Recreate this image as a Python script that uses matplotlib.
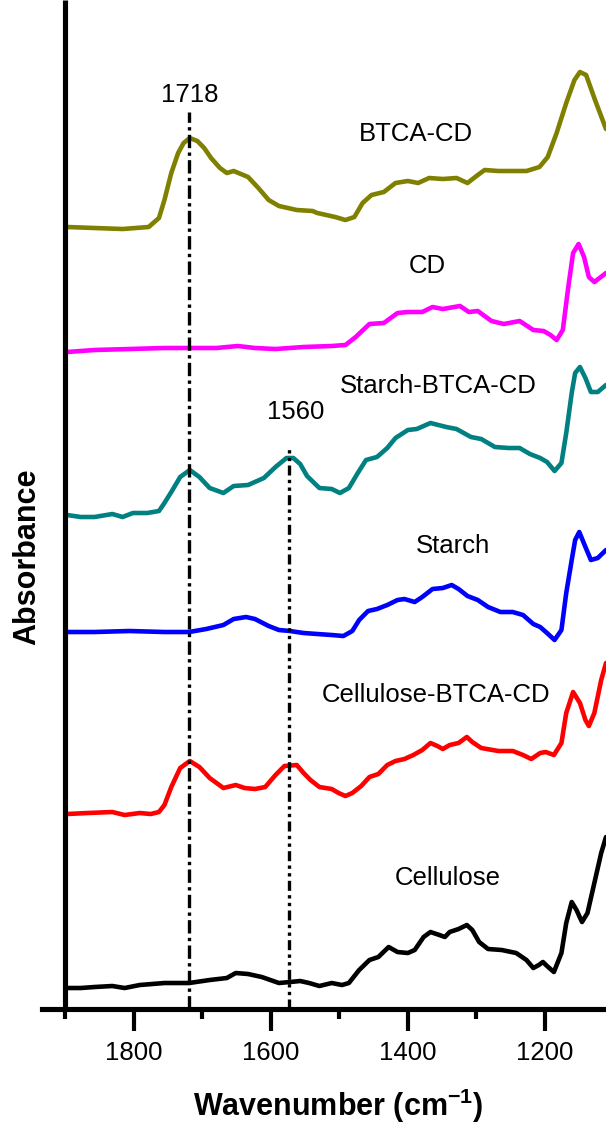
import matplotlib
matplotlib.use('Agg')
import matplotlib.pyplot as plt
from matplotlib.ticker import MultipleLocator

plt.rcParams['font.family'] = ['Liberation Sans', 'DejaVu Sans']
plt.rcParams['mathtext.fontset'] = 'custom'
plt.rcParams['mathtext.rm'] = 'Liberation Sans'
plt.rcParams['mathtext.bf'] = 'Liberation Sans:bold'

# espectros FTIR (absorbancia en unidades arbitrarias, ya desplazados)
btca_cd_w = [1897, 1857, 1816, 1778, 1763, 1755, 1745, 1735, 1727, 1718, 1707, 1697, 1687, 1674, 1664, 1654,
             1633, 1618, 1603, 1588, 1562, 1539, 1532, 1506, 1491, 1478, 1466, 1453, 1435, 1418, 1400, 1385,
             1369, 1349, 1329, 1313, 1298, 1288, 1268, 1227, 1208, 1196, 1183, 1169, 1157, 1149, 1140, 1127, 1111]
btca_cd_a = [7.82, 7.81, 7.80, 7.82, 7.91, 8.09, 8.36, 8.56, 8.66, 8.71, 8.68, 8.61, 8.51, 8.41, 8.36, 8.38,
             8.32, 8.21, 8.09, 8.03, 7.99, 7.98, 7.96, 7.92, 7.89, 7.92, 8.06, 8.14, 8.17, 8.26, 8.28, 8.26,
             8.31, 8.30, 8.31, 8.26, 8.34, 8.39, 8.38, 8.38, 8.42, 8.52, 8.76, 9.06, 9.29, 9.37, 9.34, 9.09, 8.80]

cd_w = [1897, 1857, 1806, 1755, 1719, 1679, 1648, 1623, 1593, 1552, 1511, 1491, 1476, 1456, 1435, 1415, 1400,
        1379, 1364, 1349, 1324, 1311, 1298, 1278, 1260, 1237, 1217, 1202, 1192, 1183, 1174, 1166, 1159, 1151,
        1143, 1136, 1128, 1111]
cd_a = [6.57, 6.59, 6.60, 6.61, 6.61, 6.61, 6.63, 6.61, 6.60, 6.62, 6.63, 6.64, 6.72, 6.85, 6.86, 6.96, 6.97,
        6.97, 7.02, 7.00, 7.03, 6.97, 6.98, 6.88, 6.85, 6.88, 6.79, 6.78, 6.74, 6.69, 6.79, 7.22, 7.56, 7.65,
        7.52, 7.32, 7.27, 7.36]

starch_btca_cd_w = [1897, 1877, 1857, 1831, 1816, 1801, 1780, 1763, 1755, 1745, 1732, 1718, 1704, 1689, 1669,
                    1654, 1633, 1610, 1593, 1577, 1567, 1557, 1547, 1529, 1511, 1499, 1486, 1473, 1461, 1445,
                    1430, 1418, 1400, 1387, 1367, 1344, 1329, 1308, 1293, 1273, 1253, 1237, 1222, 1207, 1197,
                    1186, 1176, 1169, 1161, 1156, 1149, 1141, 1133, 1123, 1111]
starch_btca_cd_a = [4.94, 4.92, 4.92, 4.95, 4.92, 4.96, 4.96, 4.98, 5.06, 5.17, 5.32, 5.39, 5.32, 5.21, 5.16,
                    5.23, 5.24, 5.31, 5.42, 5.51, 5.51, 5.45, 5.33, 5.21, 5.20, 5.16, 5.21, 5.36, 5.49, 5.52,
                    5.61, 5.71, 5.79, 5.80, 5.86, 5.82, 5.80, 5.72, 5.70, 5.62, 5.61, 5.61, 5.55, 5.51, 5.47,
                    5.38, 5.46, 5.76, 6.16, 6.36, 6.42, 6.31, 6.17, 6.17, 6.24]

starch_w = [1897, 1857, 1806, 1755, 1719, 1694, 1669, 1654, 1636, 1623, 1603, 1588, 1572, 1552, 1532, 1511,
            1494, 1481, 1471, 1458, 1445, 1430, 1415, 1405, 1390, 1379, 1364, 1349, 1336, 1326, 1313, 1298,
            1283, 1265, 1247, 1232, 1217, 1207, 1197, 1186, 1176, 1169, 1161, 1156, 1150, 1141, 1133, 1123, 1111]
starch_a = [3.77, 3.77, 3.78, 3.77, 3.77, 3.80, 3.84, 3.90, 3.92, 3.90, 3.83, 3.79, 3.78, 3.76, 3.75, 3.74,
            3.73, 3.78, 3.89, 3.98, 4.00, 4.04, 4.09, 4.10, 4.07, 4.12, 4.20, 4.21, 4.24, 4.20, 4.13, 4.09,
            4.02, 3.97, 3.97, 3.94, 3.85, 3.82, 3.76, 3.69, 3.79, 4.16, 4.49, 4.69, 4.77, 4.62, 4.49, 4.51, 4.59]

cel_btca_cd_w = [1897, 1867, 1831, 1813, 1791, 1775, 1763, 1755, 1745, 1732, 1718, 1704, 1689, 1669, 1651,
                 1638, 1623, 1608, 1593, 1580, 1562, 1552, 1542, 1529, 1511, 1501, 1491, 1481, 1468, 1456,
                 1443, 1430, 1418, 1405, 1392, 1379, 1367, 1357, 1349, 1339, 1326, 1314, 1306, 1293, 1268,
                 1247, 1232, 1220, 1207, 1199, 1187, 1176, 1169, 1159, 1149, 1141, 1136, 1128, 1118, 1111]
cel_btca_cd_a = [1.95, 1.96, 1.97, 1.94, 1.96, 1.95, 1.97, 2.04, 2.22, 2.41, 2.48, 2.42, 2.31, 2.21, 2.24,
                 2.21, 2.20, 2.22, 2.34, 2.43, 2.44, 2.36, 2.29, 2.22, 2.20, 2.16, 2.13, 2.16, 2.23, 2.32,
                 2.35, 2.44, 2.48, 2.50, 2.54, 2.59, 2.66, 2.63, 2.60, 2.64, 2.66, 2.72, 2.67, 2.61, 2.58,
                 2.58, 2.54, 2.50, 2.56, 2.57, 2.54, 2.66, 2.96, 3.17, 3.06, 2.89, 2.83, 2.96, 3.29, 3.46]

cellulose_w = [1897, 1877, 1857, 1831, 1813, 1791, 1755, 1719, 1689, 1664, 1651, 1633, 1613, 1588, 1572,
               1557, 1544, 1529, 1511, 1496, 1486, 1471, 1456, 1443, 1428, 1415, 1400, 1390, 1377, 1367,
               1354, 1346, 1339, 1326, 1314, 1306, 1296, 1283, 1263, 1242, 1227, 1217, 1209, 1203, 1197,
               1187, 1176, 1169, 1161, 1154, 1146, 1138, 1128, 1118, 1111]
cellulose_a = [0.21, 0.21, 0.22, 0.23, 0.21, 0.24, 0.26, 0.26, 0.29, 0.31, 0.36, 0.35, 0.32, 0.26, 0.27,
               0.28, 0.26, 0.23, 0.26, 0.24, 0.26, 0.39, 0.49, 0.52, 0.62, 0.57, 0.56, 0.59, 0.72, 0.77,
               0.74, 0.72, 0.77, 0.80, 0.84, 0.79, 0.67, 0.60, 0.59, 0.56, 0.49, 0.41, 0.44, 0.47, 0.43,
               0.37, 0.56, 0.86, 1.07, 0.99, 0.87, 0.96, 1.26, 1.56, 1.72]

nombres = ['BTCA-CD', 'CD', 'Starch-BTCA-CD', 'Starch', 'Cellulose-BTCA-CD', 'Cellulose']
colores = ['#808000', '#FF00FF', '#008080', '#0000FF', '#FF0000', '#000000']
# posicion de cada etiqueta (numero de onda, absorbancia de la linea base del texto)
etiqueta_w = [1388, 1372, 1356, 1334, 1359, 1342]
etiqueta_a = [8.68, 7.36, 6.16, 4.56, 3.07, 1.24]

# lineas de referencia: posicion, texto, altura del texto y donde empieza la linea
picos_w = [1718.5, 1573]
picos_texto = ['1718', '1560']
picos_texto_w = [1718, 1564]
picos_texto_a = [9.07, 5.90]
picos_tope = [8.97, 5.62]

curvas_w = [btca_cd_w, cd_w, starch_btca_cd_w, starch_w, cel_btca_cd_w, cellulose_w]
curvas_a = [btca_cd_a, cd_a, starch_btca_cd_a, starch_a, cel_btca_cd_a, cellulose_a]

fig = plt.figure(figsize=(6.06, 11.25), dpi=100)
ax = fig.add_axes([0.0688, 0.1031, 0.9312, 0.8969])

for w, a, c in zip(curvas_w, curvas_a, colores):
    ax.plot(w, a, color=c, lw=3.3, solid_joinstyle='round', solid_capstyle='round', zorder=2)

for w, a, n in zip(etiqueta_w, etiqueta_a, nombres):
    ax.text(w, a, n, ha='center', va='baseline', fontsize=18.5)

estilos = [(0, (4, 1.3, 1, 1.3)), (0, (3, 1.3, 1, 1.3, 1, 1.3))]
for p, t, tw, ta, tope, ls in zip(picos_w, picos_texto, picos_texto_w, picos_texto_a, picos_tope, estilos):
    ax.plot([p, p], [0, tope], color='black', lw=2.4, linestyle=ls, dash_capstyle='butt', zorder=3)
    ax.text(tw, ta, t, ha='center', va='baseline', fontsize=18.5)

ax.set_xlim(1934, 1111)
ax.set_ylim(0, 10.09)
ax.xaxis.set_major_locator(MultipleLocator(200))
ax.xaxis.set_minor_locator(MultipleLocator(100))
ax.set_yticks([])

ax.spines['top'].set_visible(False)
ax.spines['right'].set_visible(False)
ax.spines['left'].set_position(('data', 1900))
ax.spines['left'].set_linewidth(3.7)
ax.spines['bottom'].set_linewidth(3.7)
ax.spines['left'].set_capstyle('butt')
ax.tick_params(axis='x', which='major', direction='out', length=16, width=3, labelsize=18.5, pad=7)
ax.tick_params(axis='x', which='minor', direction='out', length=7, width=3)

fig.text(0.0446, 0.505, 'Absorbance', rotation=90, ha='center', va='center',
         fontsize=22, fontweight='bold')
fig.text(0.558, 9 / 1125, r'Wavenumber (cm$^{\mathbf{-1}}$)', ha='center', va='baseline',
         fontsize=22, fontweight='bold')

fig.savefig('out.png', dpi=100)
